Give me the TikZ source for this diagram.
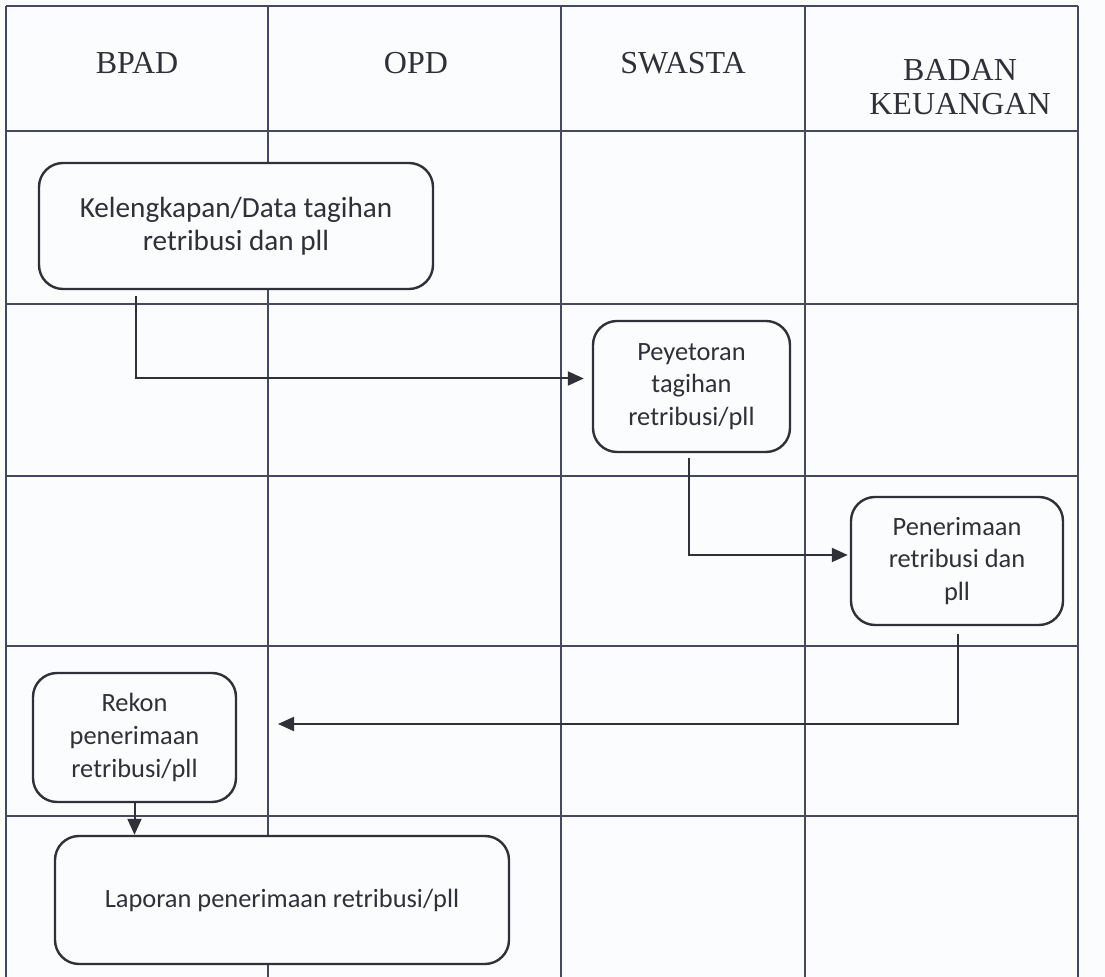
\documentclass[tikz,border=0pt]{standalone}
\usepackage{fontspec}
\setmainfont{Liberation Serif}
\newfontfamily\boxfont{Carlito}
\usetikzlibrary{arrows.meta}
\definecolor{paper}{RGB}{250,252,254}
\definecolor{gridline}{RGB}{70,72,96}
\definecolor{inkc}{RGB}{48,48,56}

\begin{document}
\begin{tikzpicture}[x=0.5pt, y=-0.5pt,
  lane/.style={font=\fontsize{16}{17}\selectfont, align=center, text=inkc},
  proc/.style={draw=inkc, fill=paper, line width=1.2pt, rounded corners=12pt, align=center,
    font=\boxfont\fontsize{13.2}{16.3}\selectfont, text=inkc},
  flow/.style={draw=inkc, line width=1pt, -{Triangle[length=8pt,width=7pt]}}]
\useasboundingbox (0,0) rectangle (1105,977);
\fill[paper] (0,0) rectangle (1105,977);
% lanes
\foreach \x in {6,268,561,805,1078} \draw[gridline, line width=.7pt] (\x,6) -- (\x,977);
\foreach \y in {6,131,304,476,646,816} \draw[gridline, line width=.7pt] (6,\y) -- (1078,\y);
\node[lane] (bpad) at (137,63) {BPAD};
\node[lane] (opd) at (416,63) {OPD};
\node[lane] (swasta) at (683,63) {SWASTA};
\node[lane] (keu) at (960,87) {BADAN\\KEUANGAN};
% steps
\node[proc, font=\boxfont\fontsize{14.6}{16.3}\selectfont, minimum width=197pt, minimum height=63pt] (kel) at (236,226) {Kelengkapan/Data tagihan\\retribusi dan pll};
\node[proc, minimum width=98.5pt, minimum height=65.5pt] (pey) at (691.5,386.5) {Peyetoran\\tagihan\\retribusi/pll};
\node[proc, minimum width=106pt, minimum height=64pt] (pen) at (957,561) {Penerimaan\\retribusi dan\\pll};
\node[proc, minimum width=101.5pt, minimum height=64.5pt] (rekon) at (134.5,737.5) {Rekon\\penerimaan\\retribusi/pll};
\node[proc, minimum width=227pt, minimum height=64pt] (lap) at (282,900) {Laporan penerimaan retribusi/pll};
\coordinate (back) at (278,724);
% flow
\draw[flow, shorten >=4pt] ([xshift=-50pt,yshift=-3pt]kel.south) |- ([yshift=4pt]pey.west);
\draw[flow, shorten >=1pt] ([xshift=-1.5pt,yshift=-2.5pt]pey.south) |- ([yshift=3pt]pen.west);
\draw[flow] ([xshift=.5pt,yshift=-4pt]pen.south) |- (back);
\draw[flow] (rekon.south) -- (rekon.south |- lap.north);
\end{tikzpicture}
\end{document}
